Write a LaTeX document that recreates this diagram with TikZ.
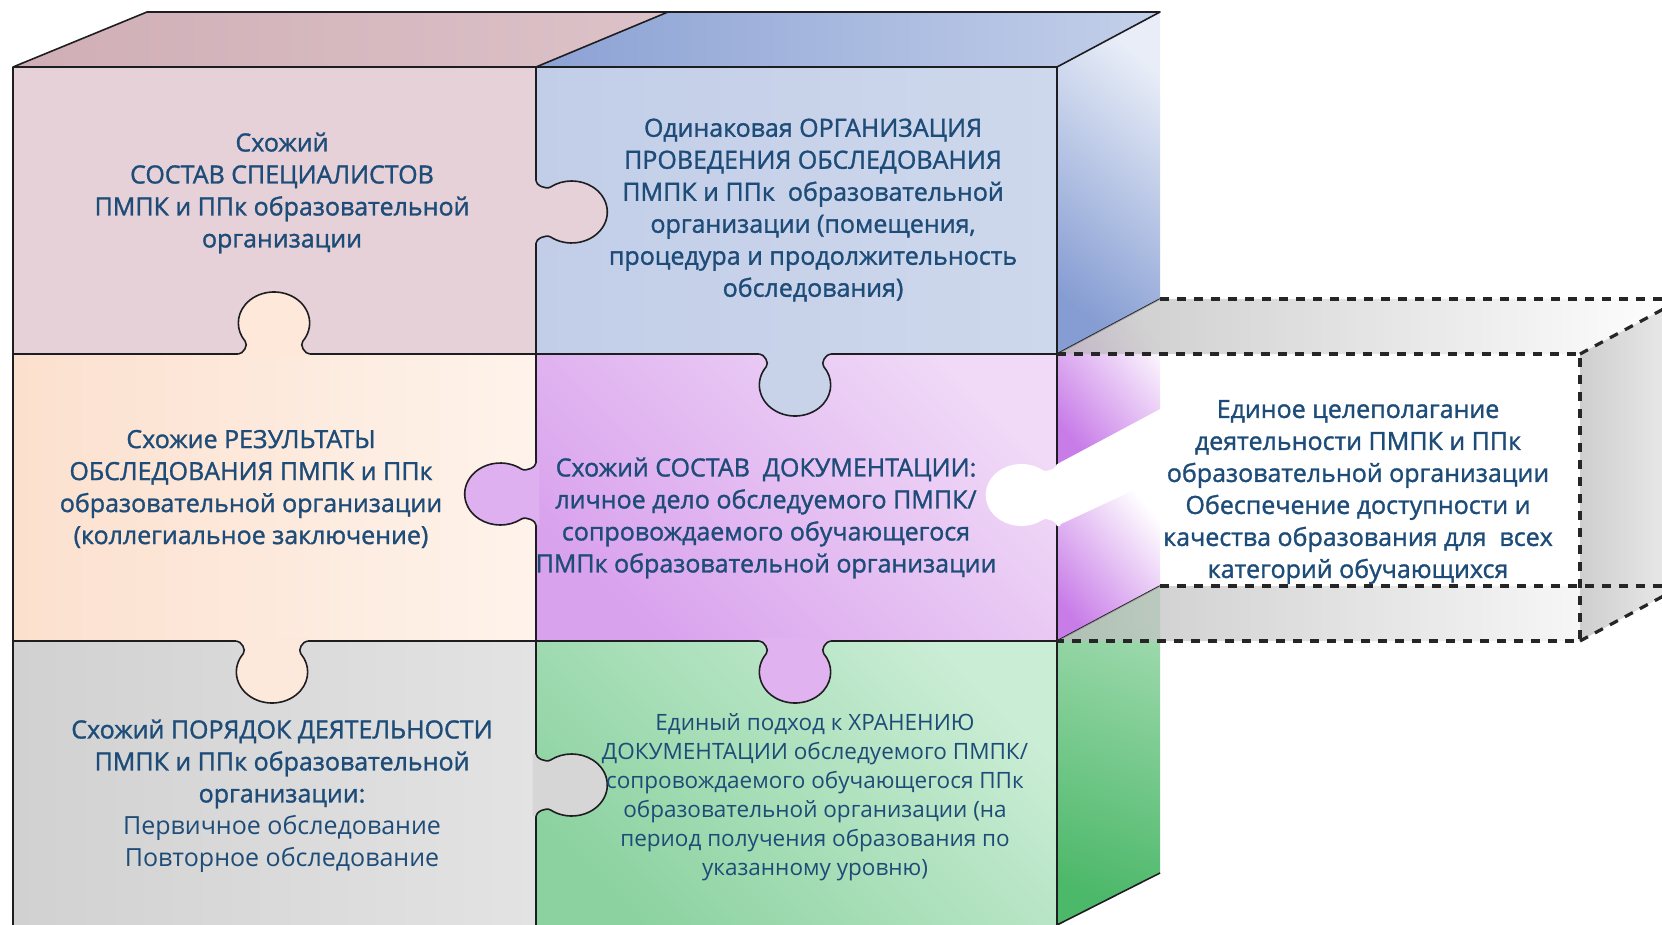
\documentclass[tikz,border=0pt]{standalone}
\usepackage{fontspec}
\setmainfont{Open Sans}
\newfontfamily\medfont{Open Sans}[FakeBold=1.3]
\usepackage{tikz}
\usetikzlibrary{positioning}
\definecolor{txtblue}{RGB}{30,76,120}
\definecolor{edgecol}{RGB}{30,30,34}
\definecolor{pinkfront}{RGB}{229,209,215}
\definecolor{pinktopL}{RGB}{208,174,182}
\definecolor{pinktopR}{RGB}{220,194,200}
\definecolor{bluefrontL}{RGB}{194,206,232}
\definecolor{bluefrontR}{RGB}{206,216,236}
\definecolor{bluetopL}{RGB}{140,162,212}
\definecolor{bluetopR}{RGB}{196,208,234}
\definecolor{bluesideD}{RGB}{134,157,211}
\definecolor{bluesideL}{RGB}{232,237,247}
\definecolor{peachL}{RGB}{252,224,206}
\definecolor{peachR}{RGB}{254,243,235}
\definecolor{purpD}{RGB}{217,162,237}
\definecolor{purpL}{RGB}{240,218,247}
\definecolor{purpsideD}{RGB}{200,124,232}
\definecolor{grayL}{RGB}{209,209,209}
\definecolor{grayR}{RGB}{227,227,227}
\definecolor{greenD}{RGB}{140,210,160}
\definecolor{greenL}{RGB}{202,237,213}
\definecolor{greensideD}{RGB}{76,184,105}
\definecolor{greensideL}{RGB}{160,218,175}
\tikzstyle{edge}=[line width=1.6pt,draw=edgecol,line join=round]
\tikzstyle{dashedge}=[line width=3.2pt,draw=black!85,dash pattern=on 9pt off 8pt]
\tikzstyle{lbl}=[text=txtblue,align=center,inner sep=0pt,font=\medfont\fontsize{25}{32}\selectfont]
\tikzstyle{lblsmall}=[lbl,font=\rmfamily\fontsize{22.5}{29}\selectfont]
% jigsaw tab: position, angle, fill colour, outline style
\newcommand{\knob}[4]{%
\begin{scope}[shift={#1},xscale=1.15,rotate=#2]
\fill[#3] (-3,31) -- (0,31) .. controls (0,27) and (8.65,22.05) .. (12.7,25)
  arc[start angle=126.2,end angle=-126.2,radius=31]
  .. controls (8.65,-22.05) and (0,-27) .. (0,-31) -- (-3,-31) -- cycle;
\draw[#4] (0,31) .. controls (0,27) and (8.65,22.05) .. (12.7,25)
  arc[start angle=126.2,end angle=-126.2,radius=31]
  .. controls (8.65,-22.05) and (0,-27) .. (0,-31);
\end{scope}}

\begin{document}
\begin{tikzpicture}[x=1pt,y=-1pt]
\useasboundingbox (0,0) rectangle (1662,925);
\clip (0,0) rectangle (1662,925);
\fill[white] (0,0) rectangle (1662,925);
% top and side faces
\shade[left color=pinktopL,right color=pinktopR] (13,67) -- (536,67) -- (668,12) -- (147,12) -- cycle;
\shade[left color=bluetopL,right color=bluetopR] (536,67) -- (1057,67) -- (1160,12) -- (668,12) -- cycle;
\shade[bottom color=bluesideD,top color=bluesideL,shading angle=-40] (1057,67) -- (1160,12) -- (1160,299) -- (1057,354) -- cycle;
\shade[bottom color=purpsideD,top color=white,shading angle=-50] (1057,354) -- (1160,299) -- (1160,409) -- (1057,464) -- cycle;
\shade[bottom color=purpsideD,top color=white,shading angle=-50] (1057,526) -- (1160,478) -- (1160,586) -- (1057,641) -- cycle;
\shade[bottom color=greensideD,top color=greensideL,shading angle=-20] (1057,641) -- (1160,586) -- (1160,873) -- (1057,925) -- cycle;
% front pieces
\fill[pinkfront] (13,67) rectangle (536,354);
\shade[left color=bluefrontL,right color=bluefrontR] (536,67) rectangle (1057,354);
\shade[left color=peachL,right color=peachR] (13,354) rectangle (536,641);
\shade[bottom color=purpD,top color=purpL,shading angle=-45] (536,354) rectangle (1057,641);
\shade[left color=grayL,right color=grayR] (13,641) rectangle (536,940);
\shade[bottom color=greenD,top color=greenL,shading angle=-45] (536,641) rectangle (1057,940);
% edges
\draw[edge] (13,940) -- (13,67) -- (147,12) -- (1160,12) -- (1057,67) -- (1057,940);
\draw[edge] (13,67) -- (1057,67);
\draw[edge] (536,940) -- (536,67) -- (668,12);
\draw[edge] (13,354) -- (1057,354) -- (1160,299);
\draw[edge] (13,641) -- (1057,641) -- (1160,586);
\draw[edge] (1057,925) -- (1160,873);
% tabs
\knob{(536,212)}{0}{pinkfront}{edge}
\knob{(274,354)}{90}{peachL!60!peachR}{edge}
\knob{(795,354)}{-90}{bluefrontL!50!bluefrontR}{edge}
\knob{(536,494)}{180}{purpD!75!purpL}{edge}
\knob{(272,641)}{-90}{peachL!55!peachR}{edge}
\knob{(795,641)}{-90}{purpD!70!purpL}{edge}
\knob{(536,785)}{0}{grayL!70!grayR}{edge}
\knob{(1057,495)}{180}{white}{draw=none}
% dashed box
\shade[left color=gray!55,right color=white,fill opacity=0.75] (1057,354) -- (1580,354) -- (1682,299) -- (1160,299) -- cycle;
\shade[left color=gray!55,right color=white,fill opacity=0.75] (1057,641) -- (1580,641) -- (1682,586) -- (1160,586) -- cycle;
\shade[left color=gray!38,right color=gray!15] (1580,354) -- (1682,299) -- (1682,586) -- (1580,641) -- cycle;
\draw[dashedge] (1057,354) -- (1580,354) -- (1580,641) -- (1057,641);
\draw[dashedge] (1160,299) -- (1700,299);
\draw[dashedge] (1160,586) -- (1700,586);
\draw[dashedge] (1580,354) -- (1682,299);
\draw[dashedge] (1580,641) -- (1682,586);
% texts
\node[lbl] (sostav) at (282,193) {Схожий\\СОСТАВ СПЕЦИАЛИСТОВ\\ПМПК и ППк образовательной\\организации};
\node[lbl] (organiz) at (813,210) {Одинаковая ОРГАНИЗАЦИЯ\\ПРОВЕДЕНИЯ ОБСЛЕДОВАНИЯ\\ПМПК и ППк~ образовательной\\организации (помещения,\\процедура и продолжительность\\обследования)};
\node[lbl] (result) at (251,489) {Схожие РЕЗУЛЬТАТЫ\\ОБСЛЕДОВАНИЯ ПМПК и ППк\\образовательной организации\\(коллегиальное заключение)};
\node[lbl] (docum) at (766,518) {Схожий СОСТАВ~ ДОКУМЕНТАЦИИ:\\личное дело обследуемого ПМПК/\\сопровождаемого обучающегося\\ПМПк образовательной организации};
\node[lbl] (goal) at (1358,492) {Единое целеполагание\\деятельности ПМПК и ППк\\образовательной организации\\Обеспечение доступности и\\качества образования для~ всех\\категорий обучающихся};
\node[lbl] (order) at (282,796) {Схожий ПОРЯДОК ДЕЯТЕЛЬНОСТИ\\ПМПК и ППк образовательной\\организации:\\{\rmfamily Первичное обследование}\\{\rmfamily Повторное обследование}};
\node[lblsmall] (storage) at (815,797) {Единый подход к ХРАНЕНИЮ\\ДОКУМЕНТАЦИИ обследуемого ПМПК/\\сопровождаемого обучающегося ППк\\образовательной организации (на\\период получения образования по\\указанному уровню)};
\end{tikzpicture}
\end{document}
